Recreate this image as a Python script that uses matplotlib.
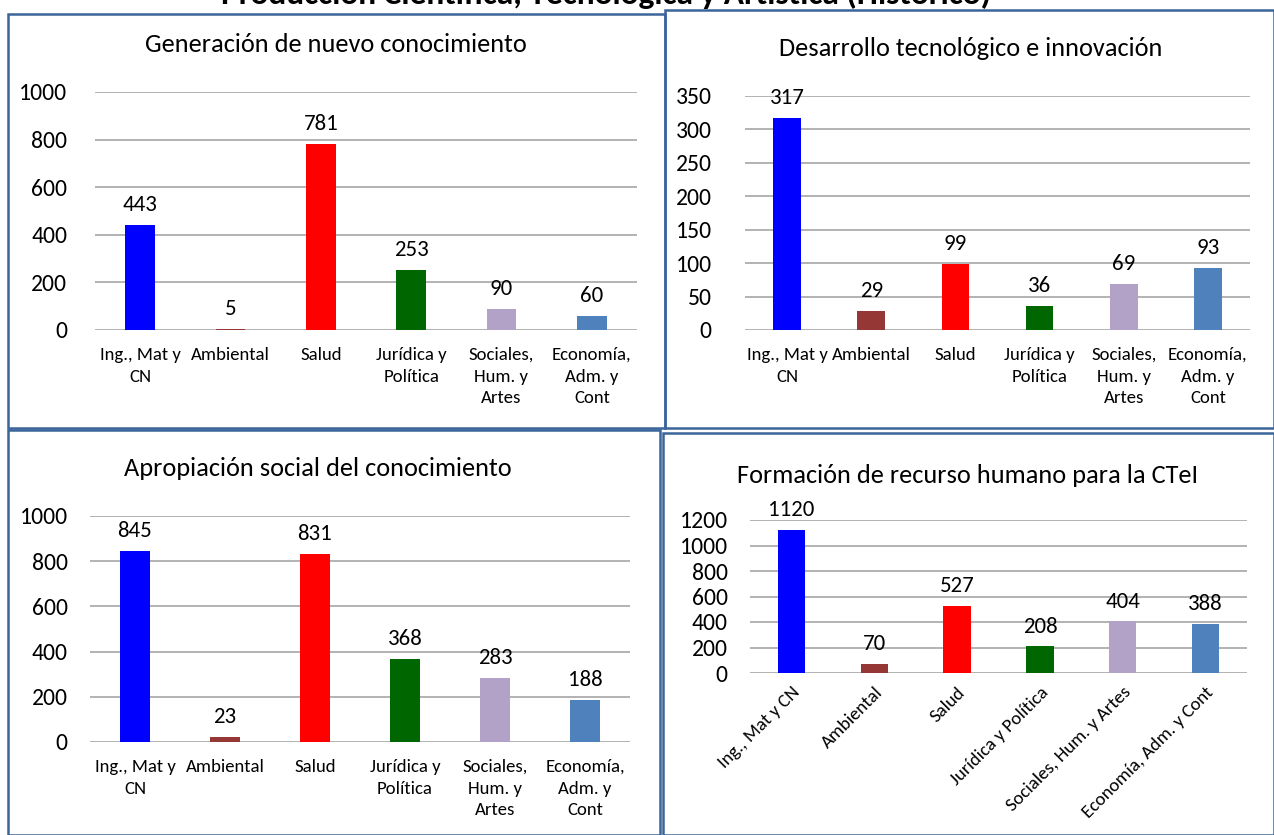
import matplotlib
matplotlib.use("Agg")
import matplotlib.pyplot as plt
from matplotlib.patches import Rectangle

plt.rcParams['font.family'] = ['Carlito', 'Liberation Sans Narrow', 'Liberation Sans', 'DejaVu Sans']

# datos
areas_cortas = ["Ing., Mat y\nCN", "Ambiental", "Salud", "Jurídica y\nPolítica",
                "Sociales,\nHum. y\nArtes", "Economía,\nAdm. y\nCont"]
areas_largas = ["Ing., Mat y CN", "Ambiental", "Salud", "Jurídica y Política",
                "Sociales, Hum. y Artes", "Economía, Adm. y Cont"]
colores = ["#0000FF", "#953735", "#FF0000", "#006600", "#B3A2C7", "#4F81BD"]

generacion = [443, 5, 781, 253, 90, 60]
desarrollo = [317, 29, 99, 36, 69, 93]
apropiacion = [845, 23, 831, 368, 283, 188]
formacion = [1120, 70, 527, 208, 404, 388]

titulo_general = "Producción Científica, Tecnológica y Artística (Histórico)"

W, H = 1274, 835
fig = plt.figure(figsize=(W / 100, H / 100), dpi=100)


def px(x0, y0, x1, y1):
    # caja en pixeles (arriba-izquierda) -> coordenadas de figura
    return [x0 / W, 1 - y1 / H, (x1 - x0) / W, (y1 - y0) / H]


# marcos de los paneles
marcos = [(8, 14, 665, 428), (665, 10, 1274, 428), (8, 430, 660, 835), (663, 433, 1274, 835)]
for (a, b, c, d) in marcos:
    r = Rectangle((a / W, 1 - d / H), (c - a) / W, (d - b) / H, transform=fig.transFigure,
                  fill=False, edgecolor="#3A659B", linewidth=1.8)
    fig.add_artist(r)

# titulo general, recortado arriba como en la imagen original
fig.text(606 / W, 1 - 4 / H, titulo_general, ha="center", va="baseline", fontsize=24,
         fontweight="bold", color="black")

paneles = [
    ("Generación de nuevo conocimiento", generacion, (95, 92, 637, 330), 1000, 200, areas_cortas, 45, 336, 20),
    ("Desarrollo tecnológico e innovación", desarrollo, (745, 96, 1250, 330), 350, 50, areas_cortas, 48, 971, 24),
    ("Apropiación social del conocimiento", apropiacion, (90, 516, 630, 742), 1000, 200, areas_cortas, 468, 318, 16),
    ("Formación de recurso humano para la CTeI", formacion, (750, 520, 1247, 673), 1200, 200, areas_largas, 475, 968, 16),
]

for i, (titulo, valores, caja, ymax, paso, etiquetas, ty, tx, pad) in enumerate(paneles):
    ax = fig.add_axes(px(*caja))
    xs = range(len(valores))
    ax.bar(xs, valores, width=0.33, color=colores, zorder=3)
    ax.set_ylim(0, ymax)
    ax.set_xlim(-0.5, len(valores) - 0.5)
    ax.set_yticks(range(0, ymax + 1, paso))
    ax.yaxis.grid(True, color="#A6A6A6", linewidth=1.2, zorder=0)
    for s in ax.spines.values():
        s.set_visible(False)
    ax.tick_params(axis="both", length=0)
    ax.tick_params(axis="y", labelsize=17, pad=pad)
    ax.set_xticks(list(xs))
    if i == 3:
        ax.set_xticklabels(etiquetas, rotation=45, ha="right", rotation_mode="anchor", fontsize=13.5)
        ax.tick_params(axis="x", pad=8)
    else:
        ax.set_xticklabels(etiquetas, fontsize=13.5, linespacing=1.45)
        ax.tick_params(axis="x", pad=12)
    for x, v in zip(xs, valores):
        ax.annotate(str(v), (x, v), xytext=(0, 7), textcoords="offset points",
                    ha="center", va="bottom", fontsize=16.5)
    fig.text(tx / W, 1 - ty / H, titulo, ha="center", va="center", fontsize=19)

fig.savefig("out.png", dpi=100)
